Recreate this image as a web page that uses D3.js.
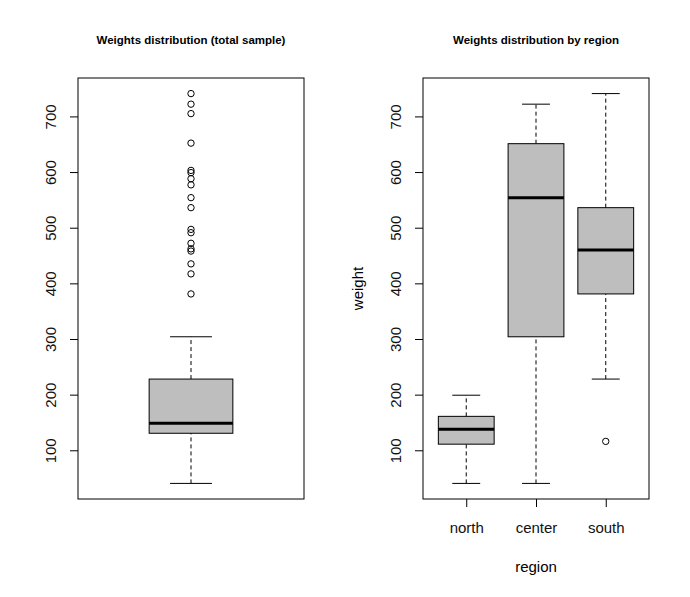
<!DOCTYPE html>
<html>
<head>
<meta charset="utf-8">
<script src="https://cdn.jsdelivr.net/npm/d3@7"></script>
<style>
  body { margin: 0; background: #fff; }
  svg { display: block; font-family: "Liberation Sans", Arial, sans-serif; }
</style>
</head>
<body>
<div id="chart"></div>
<script>
// Box statistics: [lower whisker, Q1, median, Q3, upper whisker]
const totalBox = [40.5, 130.6, 148.6, 228, 304];
const totalOutliers = [741, 722, 705, 652, 603, 599, 588, 577, 554, 536,
  497, 491, 472, 462, 458, 435, 417, 381];

const regions = ["north", "center", "south"];
const whiskerLow = [40.5, 40.5, 228];
const q1 = [111, 304, 381];
const medians = [138, 554, 460];
const q3 = [161, 651, 536];
const whiskerHigh = [199, 722, 741];
const regionOutliers = [[], [], [116]];

const yTicks = [100, 200, 300, 400, 500, 600, 700];

const width = 690, height = 597;
const plotTop = 78, plotBottom = 499;

const svg = d3.select("#chart").append("svg")
  .attr("width", width)
  .attr("height", height);

// R style: extend the data range by 4% on each side
function padded(lo, hi) {
  const d = (hi - lo) * 0.04;
  return [lo - d, hi + d];
}

const allValues = totalBox.concat(totalOutliers);
const y = d3.scaleLinear()
  .domain(padded(d3.min(allValues), d3.max(allValues)))
  .range([plotBottom, plotTop]);

function yAxis(g, xPos) {
  const ax = g.append("g")
    .attr("transform", `translate(${xPos},0)`)
    .call(d3.axisLeft(y).tickValues(yTicks).tickSize(8));
  ax.select(".domain").remove();
  ax.selectAll("line").attr("stroke", "#000");
  ax.selectAll("text")
    .attr("x", 0)
    .attr("y", -22)
    .attr("dy", 0)
    .attr("transform", "rotate(-90)")
    .style("text-anchor", "middle")
    .style("font-size", "15px")
    .style("font-family", "Liberation Sans, Arial, sans-serif")
    .attr("fill", "#111");
}

function drawBox(g, cx, halfW, s) {
  const capW = halfW / 2;
  // whiskers
  g.append("line")
    .attr("x1", cx).attr("x2", cx)
    .attr("y1", y(s[0])).attr("y2", y(s[1]))
    .attr("stroke", "#000").attr("stroke-dasharray", "4,3");
  g.append("line")
    .attr("x1", cx).attr("x2", cx)
    .attr("y1", y(s[3])).attr("y2", y(s[4]))
    .attr("stroke", "#000").attr("stroke-dasharray", "4,3");
  g.append("line")
    .attr("x1", cx - capW).attr("x2", cx + capW)
    .attr("y1", y(s[0])).attr("y2", y(s[0]))
    .attr("stroke", "#000");
  g.append("line")
    .attr("x1", cx - capW).attr("x2", cx + capW)
    .attr("y1", y(s[4])).attr("y2", y(s[4]))
    .attr("stroke", "#000");
  // box
  g.append("rect")
    .attr("x", cx - halfW)
    .attr("y", y(s[3]))
    .attr("width", halfW * 2)
    .attr("height", y(s[1]) - y(s[3]))
    .attr("fill", "#bebebe")
    .attr("stroke", "#000");
  // median
  g.append("line")
    .attr("x1", cx - halfW).attr("x2", cx + halfW)
    .attr("y1", y(s[2])).attr("y2", y(s[2]))
    .attr("stroke", "#000").attr("stroke-width", 3);
}

function drawOutliers(g, cx, values) {
  g.selectAll(null)
    .data(values)
    .enter()
    .append("circle")
    .attr("cx", cx)
    .attr("cy", (d) => y(d))
    .attr("r", 3.2)
    .attr("fill", "none")
    .attr("stroke", "#000");
}

function title(text, cx) {
  svg.append("text")
    .attr("x", cx)
    .attr("y", 44)
    .attr("text-anchor", "middle")
    .style("font-size", "11.5px")
    .style("font-weight", "bold")
    .text(text);
}

// Left panel: total sample
const x1 = d3.scaleLinear().domain(padded(0.5, 1.5)).range([78, 304]);
const leftPanel = svg.append("g");
drawBox(leftPanel, x1(1), x1(1.2) - x1(1), totalBox);
drawOutliers(leftPanel, x1(1), totalOutliers);
leftPanel.append("rect")
  .attr("x", 78).attr("y", plotTop)
  .attr("width", 304 - 78).attr("height", plotBottom - plotTop)
  .attr("fill", "none").attr("stroke", "#000");
yAxis(leftPanel, 78);
title("Weights distribution (total sample)", (78 + 304) / 2);

// Right panel: by region
const x2 = d3.scaleLinear().domain(padded(0.5, 3.5)).range([423, 649]);
const rightPanel = svg.append("g");
regions.forEach((r, i) => {
  const cx = x2(i + 1);
  drawBox(rightPanel, cx, x2(1.4) - x2(1),
    [whiskerLow[i], q1[i], medians[i], q3[i], whiskerHigh[i]]);
  drawOutliers(rightPanel, cx, regionOutliers[i]);
});
rightPanel.append("rect")
  .attr("x", 423).attr("y", plotTop)
  .attr("width", 649 - 423).attr("height", plotBottom - plotTop)
  .attr("fill", "none").attr("stroke", "#000");
yAxis(rightPanel, 423);

const xAx = rightPanel.append("g")
  .attr("transform", `translate(0,${plotBottom})`)
  .call(d3.axisBottom(x2).tickValues([1, 2, 3]).tickSize(8)
    .tickFormat((d) => regions[d - 1]));
xAx.select(".domain").remove();
xAx.selectAll("line").attr("stroke", "#000");
xAx.selectAll("text")
  .attr("y", 29)
  .attr("dy", "0.32em")
  .style("font-size", "15px")
  .style("font-family", "Liberation Sans, Arial, sans-serif")
  .attr("fill", "#111");

rightPanel.append("text")
  .attr("x", (423 + 649) / 2)
  .attr("y", 572)
  .attr("text-anchor", "middle")
  .style("font-size", "15px")
  .text("region");

rightPanel.append("text")
  .attr("transform", `translate(363,${(plotTop + plotBottom) / 2}) rotate(-90)`)
  .attr("text-anchor", "middle")
  .style("font-size", "15px")
  .text("weight");

title("Weights distribution by region", (423 + 649) / 2);
</script>
</body>
</html>
